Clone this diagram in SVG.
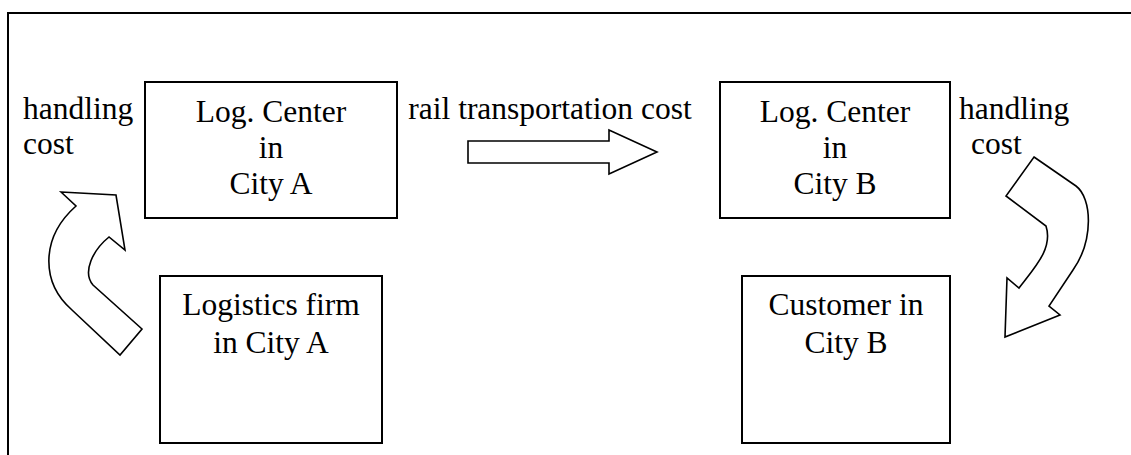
<svg xmlns="http://www.w3.org/2000/svg" width="1131" height="455" viewBox="0 0 1131 455">
  <style>
    .box { fill: #ffffff; stroke: #000000; stroke-width: 2; }
    .frame { fill: none; stroke: #000000; stroke-width: 2; }
    .arrow { fill: #ffffff; stroke: #000000; stroke-width: 1.6; stroke-linejoin: miter; }
    text { font-family: "Liberation Serif", "Times New Roman", serif; font-size: 31.5px; fill: #000000; }
    .c { text-anchor: middle; }
  </style>

  <rect x="0" y="0" width="1131" height="455" fill="#ffffff"/>

  <!-- outer frame: top and left edges only -->
  <path class="frame" d="M 8 455 L 8 13 L 1131 13"/>

  <!-- cost labels -->
  <g id="labels">
    <text x="23" y="119">handling</text>
    <text x="23" y="154">cost</text>
    <text x="550" y="119" class="c">rail transportation cost</text>
    <text x="959" y="119">handling</text>
    <text x="971" y="154">cost</text>
  </g>

  <!-- nodes -->
  <g id="log-center-a">
    <rect class="box" x="145" y="82" width="252" height="136"/>
    <text x="271" y="122" class="c">Log. Center</text>
    <text x="271" y="158" class="c">in</text>
    <text x="271" y="194" class="c">City A</text>
  </g>

  <g id="logistics-firm-a">
    <rect class="box" x="160" y="276" width="222" height="167"/>
    <text x="271" y="315" class="c">Logistics firm</text>
    <text x="271" y="353" class="c">in City A</text>
  </g>

  <g id="log-center-b">
    <rect class="box" x="720" y="82" width="230" height="136"/>
    <text x="835" y="122" class="c">Log. Center</text>
    <text x="835" y="158" class="c">in</text>
    <text x="835" y="194" class="c">City B</text>
  </g>

  <g id="customer-b">
    <rect class="box" x="742" y="276" width="208" height="167"/>
    <text x="846" y="315" class="c">Customer in</text>
    <text x="846" y="353" class="c">City B</text>
  </g>

  <!-- block arrows -->
  <g id="connectors">
    <!-- firm A up to log. center A -->
    <path class="arrow" d="M 61 192 L 116 195 L 125 250 L 109 237 C 93 250 82 272 93 285 L 142 329 L 120 355 L 72 310 C 41 283 40 238 76 206 Z"/>
    <!-- rail link A to B -->
    <polygon class="arrow" points="468,141 609,141 609,130 657,152 609,174 609,163 468,163"/>
    <!-- log. center B down to customer B -->
    <path class="arrow" d="M 1034 157 L 1076 186 C 1092 198 1094 240 1073 270 L 1049 306 L 1060 315 L 1005 337 L 1007 278 L 1019 288 C 1036 266 1053 248 1046 226 L 1006 196 Z"/>
  </g>
</svg>
